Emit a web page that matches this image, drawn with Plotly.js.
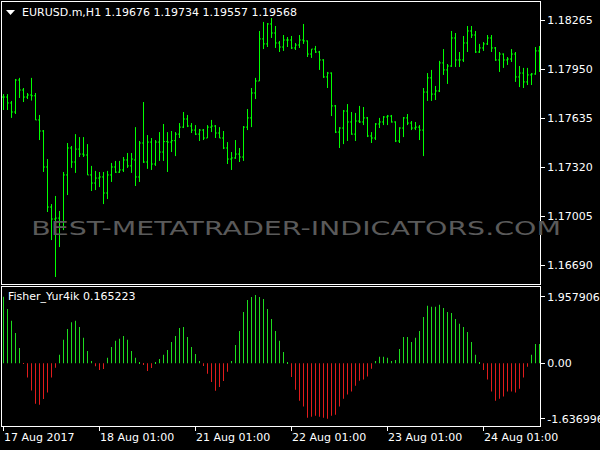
<!DOCTYPE html>
<html><head><meta charset="utf-8">
<script src="https://cdn.plot.ly/plotly-3.0.1.min.js"></script>
<style>html,body{margin:0;padding:0;background:#000;}#chart{width:600px;height:450px;}</style>
</head><body><div id="chart"></div>
<script>
const symbolTitle = 'EURUSD.m,H1 1.19676 1.19734 1.19557 1.19568';
const indicatorTitle = 'Fisher_Yur4ik 0.165223';
const watermark = 'BEST-METATRADER-INDICATORS.COM';

const opens = [1.17772,1.17772,1.17734,1.17676,1.17881,1.17817,1.17772,1.17785,1.17780,1.17625,
 1.17554,1.17323,1.17066,1.16989,1.16995,1.16938,1.17272,1.17445,1.17355,1.17438,
 1.17406,1.17400,1.17272,1.17220,1.17252,1.17259,1.17156,1.17272,1.17323,1.17290,
 1.17304,1.17368,1.17330,1.17368,1.17259,1.17477,1.17355,1.17483,1.17342,1.17483,
 1.17419,1.17486,1.17483,1.17492,1.17534,1.17579,1.17631,1.17586,1.17560,1.17534,
 1.17560,1.17509,1.17579,1.17586,1.17541,1.17509,1.17445,1.17374,1.17381,1.17406,
 1.17387,1.17579,1.17638,1.17798,1.17875,1.18145,1.18113,1.18241,1.18183,1.18119,
 1.18093,1.18138,1.18138,1.18087,1.18106,1.18138,1.18132,1.18048,1.18080,1.18061,
 1.18010,1.17901,1.17926,1.17715,1.17547,1.17573,1.17682,1.17612,1.17534,1.17618,
 1.17612,1.17638,1.17522,1.17509,1.17599,1.17612,1.17644,1.17650,1.17612,1.17490,
 1.17573,1.17638,1.17605,1.17573,1.17579,1.17560,1.17804,1.17895,1.17791,1.17811,
 1.17991,1.17946,1.17971,1.18151,1.18010,1.18010,1.18119,1.18196,1.18170,1.18061,
 1.18087,1.18113,1.18151,1.18087,1.18010,1.18048,1.18010,1.18016,1.18048,1.17901,
 1.17926,1.17869,1.17914,1.17920,1.18068];
const highs = [1.17791,1.17791,1.17747,1.17888,1.17895,1.17830,1.17798,1.17895,1.17798,1.17657,
 1.17560,1.17374,1.17085,1.17137,1.17041,1.17291,1.17477,1.17458,1.17534,1.17515,
 1.17515,1.17470,1.17330,1.17298,1.17291,1.17291,1.17298,1.17349,1.17362,1.17362,
 1.17387,1.17413,1.17413,1.17579,1.17490,1.17740,1.17528,1.17509,1.17496,1.17547,
 1.17599,1.17547,1.17554,1.17547,1.17605,1.17676,1.17657,1.17605,1.17592,1.17567,
 1.17567,1.17592,1.17625,1.17592,1.17579,1.17554,1.17483,1.17419,1.17496,1.17445,
 1.17586,1.17695,1.17830,1.17895,1.18196,1.18254,1.18247,1.18279,1.18228,1.18132,
 1.18170,1.18157,1.18164,1.18119,1.18170,1.18241,1.18135,1.18080,1.18100,1.18068,
 1.18015,1.17933,1.17930,1.17721,1.17579,1.17689,1.17727,1.17676,1.17670,1.17715,
 1.17708,1.17644,1.17547,1.17605,1.17638,1.17650,1.17657,1.17657,1.17616,1.17578,
 1.17644,1.17663,1.17618,1.17612,1.17592,1.17830,1.17926,1.17946,1.17843,1.18004,
 1.18080,1.17984,1.18196,1.18183,1.18061,1.18164,1.18228,1.18228,1.18196,1.18113,
 1.18125,1.18170,1.18170,1.18093,1.18061,1.18052,1.18029,1.18080,1.18061,1.17971,
 1.17959,1.17959,1.17926,1.18093,1.18100];
const lows = [1.17689,1.17689,1.17638,1.17663,1.17766,1.17740,1.17759,1.17749,1.17625,1.17496,
 1.17291,1.17034,1.16854,1.16617,1.16809,1.16918,1.17143,1.17317,1.17285,1.17387,
 1.17387,1.17272,1.17169,1.17175,1.17194,1.17085,1.17117,1.17227,1.17285,1.17285,
 1.17291,1.17317,1.17285,1.17201,1.17227,1.17349,1.17311,1.17304,1.17330,1.17362,
 1.17362,1.17291,1.17419,1.17393,1.17509,1.17573,1.17579,1.17541,1.17528,1.17490,
 1.17496,1.17509,1.17547,1.17509,1.17509,1.17438,1.17342,1.17304,1.17375,1.17355,
 1.17362,1.17560,1.17579,1.17759,1.17875,1.18080,1.18093,1.18151,1.18087,1.18061,
 1.18068,1.18093,1.18080,1.18074,1.18087,1.18113,1.18029,1.18023,1.18055,1.17946,
 1.17895,1.17830,1.17650,1.17541,1.17445,1.17470,1.17490,1.17530,1.17490,1.17605,
 1.17592,1.17515,1.17477,1.17496,1.17573,1.17592,1.17592,1.17608,1.17483,1.17477,
 1.17515,1.17592,1.17560,1.17560,1.17496,1.17393,1.17747,1.17747,1.17753,1.17804,
 1.17914,1.17856,1.17965,1.17965,1.17965,1.17997,1.18061,1.18151,1.18055,1.18055,
 1.18068,1.18106,1.18061,1.18004,1.17933,1.17959,1.17978,1.17997,1.17869,1.17836,
 1.17830,1.17849,1.17849,1.17915,1.17933];
const closes = [1.17772,1.17734,1.17676,1.17881,1.17817,1.17772,1.17785,1.17780,1.17625,1.17554,
 1.17323,1.17066,1.16989,1.16995,1.16938,1.17272,1.17445,1.17355,1.17438,1.17406,
 1.17400,1.17272,1.17220,1.17252,1.17259,1.17156,1.17272,1.17323,1.17290,1.17304,
 1.17368,1.17330,1.17374,1.17259,1.17477,1.17355,1.17483,1.17342,1.17483,1.17419,
 1.17486,1.17483,1.17492,1.17534,1.17579,1.17631,1.17586,1.17560,1.17534,1.17560,
 1.17509,1.17579,1.17586,1.17541,1.17509,1.17445,1.17374,1.17381,1.17406,1.17387,
 1.17579,1.17638,1.17798,1.17875,1.18145,1.18113,1.18241,1.18183,1.18119,1.18093,
 1.18138,1.18138,1.18087,1.18106,1.18138,1.18132,1.18048,1.18080,1.18061,1.18010,
 1.17901,1.17926,1.17715,1.17547,1.17573,1.17682,1.17612,1.17534,1.17618,1.17612,
 1.17638,1.17522,1.17509,1.17599,1.17612,1.17644,1.17650,1.17612,1.17490,1.17573,
 1.17638,1.17605,1.17573,1.17579,1.17560,1.17804,1.17895,1.17791,1.17811,1.17991,
 1.17946,1.17971,1.18151,1.18010,1.18010,1.18119,1.18196,1.18170,1.18061,1.18087,
 1.18113,1.18151,1.18087,1.18010,1.18048,1.18010,1.18016,1.18048,1.17901,1.17926,
 1.17869,1.17914,1.17920,1.18068,1.18060];
const fisher = [1.96,1.60,1.25,0.89,0.45,-0.02,-0.42,-0.80,-1.19,-1.22,
 -1.05,-0.86,-0.42,-0.13,0.25,0.69,1.01,1.21,1.25,1.07,
 0.75,0.36,0.07,-0.09,-0.20,-0.17,0.16,0.48,0.66,0.72,
 0.80,0.69,0.36,0.16,0.04,-0.05,-0.23,-0.14,0.01,0.13,
 0.25,0.39,0.63,0.80,1.04,1.07,0.77,0.48,0.27,0.07,
 -0.08,-0.31,-0.55,-0.81,-0.70,-0.52,-0.25,0.07,0.54,0.95,
 1.51,1.86,1.95,2.01,1.95,1.89,1.60,1.30,0.95,0.66,
 0.33,0.01,-0.40,-0.78,-1.10,-1.27,-1.60,-1.57,-1.54,-1.57,
 -1.60,-1.63,-1.54,-1.51,-1.27,-1.04,-0.92,-0.83,-0.66,-0.51,
 -0.48,-0.39,-0.16,0.07,0.19,0.19,0.16,0.07,0.10,0.42,
 0.77,0.77,0.63,0.75,0.95,1.36,1.69,1.66,1.66,1.72,
 1.63,1.51,1.48,1.30,1.16,1.07,0.92,0.63,0.25,0.02,
 -0.20,-0.48,-0.83,-1.10,-1.04,-0.98,-0.83,-0.83,-0.86,-0.75,
 -0.42,-0.10,0.25,0.57,0.57];

const priceTicks = [1.18265, 1.17950, 1.17635, 1.17320, 1.17005, 1.16690];
const priceTickText = ['1.18265','1.17950','1.17635','1.17320','1.17005','1.16690'];
const fisherTicks = [1.957906, 0, -1.636996];
const fisherTickText = ['1.957906','0.00','-1.636996'];
const timeTickIndex = [0, 24, 48, 72, 96, 120];
const timeTickText = ['17 Aug 2017','18 Aug 01:00','21 Aug 01:00','22 Aug 01:00','23 Aug 01:00','24 Aug 01:00'];

const barIndex = opens.map((_, i) => i);

// geometry helpers (pixels -> paper)
const W = 600, H = 450, ML = 2, MR = 60, MT = 2, MB = 24;
const PW = W - ML - MR, PH = H - MT - MB;
const px = v => (v - ML) / PW;
const py = v => (H - MB - v) / PH;

const GREEN = '#00ff00', HGREEN = '#1edc1e', HRED = '#e01c1c';
const FONT = 'DejaVu Sans';

const data = [
  {
    type: 'ohlc', x: barIndex, open: opens, high: highs, low: lows, close: closes,
    xaxis: 'x2', yaxis: 'y',
    increasing: {line: {color: GREEN, width: 1}},
    decreasing: {line: {color: GREEN, width: 1}},
    tickwidth: 0.35, hoverinfo: 'skip'
  },
  {
    type: 'bar', x: barIndex, y: fisher, xaxis: 'x', yaxis: 'y2', width: 0.25,
    marker: {color: fisher.map(v => v >= 0 ? HGREEN : HRED), line: {width: 0}},
    hoverinfo: 'skip'
  }
];

const xr = [-0.375, 134.125];
const axisCommon = {showgrid: false, zeroline: false, showline: true, mirror: true,
  linecolor: '#ffffff', linewidth: 1, tickcolor: '#ffffff', fixedrange: true, automargin: false,
  tickfont: {family: FONT, size: 11, color: '#ffffff'}};

const annotations = [
  {text: symbolTitle, xref: 'paper', yref: 'paper', x: px(20), y: py(13), xanchor: 'left', yanchor: 'middle',
   showarrow: false, font: {family: FONT, size: 11, color: '#ffffff'}},
  {text: indicatorTitle, xref: 'paper', yref: 'paper', x: px(6), y: py(297), xanchor: 'left', yanchor: 'middle',
   showarrow: false, font: {family: FONT, size: 11, color: '#ffffff'}},
  {text: watermark, xref: 'paper', yref: 'paper', x: px(295.5), y: py(228), xanchor: 'center', yanchor: 'middle',
   showarrow: false, font: {family: FONT, size: 19, color: '#5a5a5a'}}
];
timeTickIndex.forEach((t, i) => annotations.push({
  text: timeTickText[i], xref: 'x', yref: 'paper', x: t, y: py(437.5), xanchor: 'left', yanchor: 'middle',
  xshift: -2, showarrow: false, font: {family: FONT, size: 11, color: '#ffffff'}
}));

const layout = {
  width: W, height: H, margin: {l: ML, r: MR, t: MT, b: MB, pad: 0},
  paper_bgcolor: '#000000', plot_bgcolor: '#000000', showlegend: false,
  font: {family: FONT, size: 11, color: '#ffffff'},
  xaxis: Object.assign({}, axisCommon, {domain: [0, 1], anchor: 'y2', range: xr, ticks: 'outside', ticklen: 4,
    tickvals: timeTickIndex, showticklabels: false, rangeslider: {visible: false}}),
  xaxis2: Object.assign({}, axisCommon, {domain: [0, 1], anchor: 'y', range: xr, ticks: '',
    showticklabels: false, rangeslider: {visible: false}}),
  yaxis: Object.assign({}, axisCommon, {domain: [py(284), 1], anchor: 'x2', side: 'right', range: [1.16572, 1.18382],
    ticks: 'outside', ticklen: 4, tickvals: priceTicks, ticktext: priceTickText}),
  yaxis2: Object.assign({}, axisCommon, {domain: [0, py(287)], anchor: 'x', side: 'right', range: [-1.844, 2.244],
    ticks: 'outside', ticklen: 4, tickvals: fisherTicks, ticktext: fisherTickText}),
  shapes: [
    {type: 'path', xref: 'paper', yref: 'paper', line: {width: 0}, fillcolor: '#ffffff',
     path: `M ${px(6)},${py(10)} L ${px(15)},${py(10)} L ${px(10.5)},${py(15)} Z`}
  ],
  annotations: annotations
};

Plotly.newPlot('chart', data, layout, {displayModeBar: false}).then(gd => {
  gd.querySelectorAll('text.annotation-text').forEach(t => {
    if (t.textContent === watermark) {
      const bb = t.getBBox();
      const cx = bb.x + bb.width / 2;
      const s = 530 / bb.width;
      t.setAttribute('transform', `translate(${cx},0) scale(${s},1) translate(${-cx},0)`);
    }
  });
});
</script>
</body></html>
